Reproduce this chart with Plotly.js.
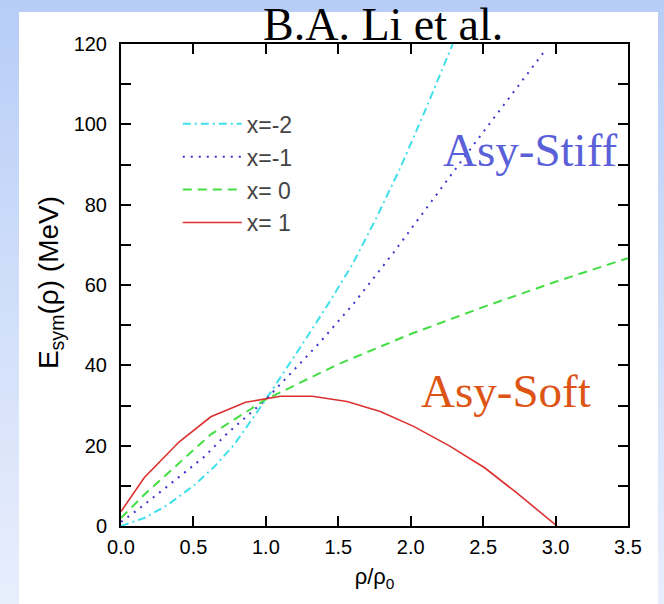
<!DOCTYPE html>
<html>
<head>
<meta charset="utf-8">
<script src="https://cdn.plot.ly/plotly-3.0.1.min.js"></script>
<style>
  html, body { margin: 0; padding: 0; width: 664px; height: 604px; overflow: hidden; }
  body { background: linear-gradient(to bottom, #b7cdf7 0%, #d3e0fa 55%, #e8eefc 100%); position: relative; }
  #panel { position: absolute; left: 19px; top: 12px; width: 639px; height: 592px; background: #ffffff; }
  #chart { position: absolute; left: 0; top: 0; width: 664px; height: 604px; }
</style>
</head>
<body>
<div id="panel"></div>
<div id="chart"></div>
<script>
// ---- data ----
const seriesNames = ["x=-2", "x=-1", "x= 0", "x= 1"];

const rhoM2 = [0, 0.16, 0.32, 0.5, 0.64, 0.78, 1.0, 1.145, 1.28, 1.44, 1.6, 1.76, 1.93, 2.11, 2.29];
const esymM2 = [0, 2.0, 5.2, 10.0, 14.6, 20.2, 31.5, 39.3, 46.8, 55.8, 65.3, 76.5, 89.3, 104.3, 120];

const rhoM1 = [0, 0.11, 0.3, 0.58, 0.72, 1.0, 1.24, 1.37, 1.6, 1.88, 2.39, 2.93];
const esymM1 = [1.0, 3.9, 9.3, 17.4, 22.6, 31.5, 40.6, 45.6, 55.1, 68.0, 92.8, 118.5];

const rho0 = [0, 0.16, 0.39, 0.62, 1.0, 1.5, 2.0, 2.5, 3.0, 3.5];
const esym0 = [2.0, 7.8, 15.3, 22.8, 31.5, 40.3, 47.8, 54.5, 60.8, 66.7];

const rhoP1 = [0, 0.16, 0.40, 0.62, 0.86, 1.10, 1.32, 1.56, 1.79, 2.02, 2.27, 2.51, 2.73, 2.96, 3.01];
const esymP1 = [3.6, 12.0, 20.9, 27.2, 30.8, 32.3, 32.3, 31.0, 28.5, 24.8, 19.9, 14.5, 8.3, 1.4, 0];

const xTickVals = [0, 0.5, 1.0, 1.5, 2.0, 2.5, 3.0, 3.5];
const yTickVals = [0, 20, 40, 60, 80, 100, 120];

// ---- styling ----
const colors = ["#3fe0ea", "#3b35d0", "#44dd44", "#dd3030"];
const dashes = ["8px,4px,2px,4px", "2px,6px", "9px,6px", "solid"];
const xs = [rhoM2, rhoM1, rho0, rhoP1];
const ys = [esymM2, esymM1, esym0, esymP1];

const traces = seriesNames.map((name, i) => ({
  type: "scatter",
  mode: "lines",
  x: xs[i],
  y: ys[i],
  name: name,
  legendgroup: "g" + i,
  line: { color: colors[i], width: i === 3 ? 1.6 : 2, dash: dashes[i] },
  hoverinfo: "skip"
}));

const axisFont = { family: "Liberation Sans, Arial, sans-serif", size: 20, color: "#000" };

const layout = {
  width: 664,
  height: 604,
  margin: { l: 121, r: 36, t: 44, b: 78 },
  paper_bgcolor: "rgba(0,0,0,0)",
  plot_bgcolor: "#ffffff",
  showlegend: true,
  legend: {
    x: 0.112, y: 0.879, xanchor: "left", yanchor: "top",
    bgcolor: "rgba(0,0,0,0)",
    font: { family: "Liberation Sans, Arial, sans-serif", size: 23, color: "#444" },
    itemwidth: 59,
    tracegroupgap: 0
  },
  xaxis: {
    range: [0, 3.5],
    tickvals: xTickVals,
    ticktext: xTickVals.map(v => v.toFixed(1)),
    ticks: "inside", ticklen: 10, tickwidth: 2, tickcolor: "#000",
    showline: true, linewidth: 2, linecolor: "#000", mirror: "ticks",
    showgrid: false, zeroline: false,
    tickfont: axisFont,
    ticklabelstandoff: 2,
    title: { text: "ρ/ρ<sub>0</sub>", font: { family: "Liberation Sans, Arial, sans-serif", size: 22, color: "#000" }, standoff: 12 }
  },
  yaxis: {
    range: [0, 120],
    tickvals: yTickVals,
    ticks: "inside", ticklen: 10, tickwidth: 2, tickcolor: "#000",
    minor: { dtick: 10, ticks: "inside", ticklen: 10, tickwidth: 2, tickcolor: "#000", showgrid: false },
    showline: true, linewidth: 2, linecolor: "#000", mirror: "ticks",
    showgrid: false, zeroline: false,
    tickfont: axisFont,
    ticklabelstandoff: 8
  },
  annotations: [
    { text: "E<sub>sym</sub>(ρ) (MeV)", xref: "paper", yref: "paper", x: -0.139, y: 0.505, xanchor: "center", yanchor: "middle",
      textangle: -90, showarrow: false, font: { family: "Liberation Sans, Arial, sans-serif", size: 28, color: "#000" } },
    { text: "B.A. Li et al.", xref: "paper", yref: "paper", x: 0.517, y: 1.04, xanchor: "center", yanchor: "middle",
      showarrow: false, font: { family: "Liberation Serif, Times New Roman, serif", size: 46, color: "#000" } },
    { text: "Asy-Stiff", xref: "x", yref: "y", x: 2.82, y: 93.7, xanchor: "center", yanchor: "middle",
      showarrow: false, font: { family: "Liberation Serif, Times New Roman, serif", size: 47, color: "#5a60d8" } },
    { text: "Asy-Soft", xref: "x", yref: "y", x: 2.66, y: 33.7, xanchor: "center", yanchor: "middle",
      showarrow: false, font: { family: "Liberation Serif, Times New Roman, serif", size: 47, color: "#dd5414" } }
  ]
};

Plotly.newPlot("chart", traces, layout, { staticPlot: true, displayModeBar: false });
</script>
</body>
</html>
